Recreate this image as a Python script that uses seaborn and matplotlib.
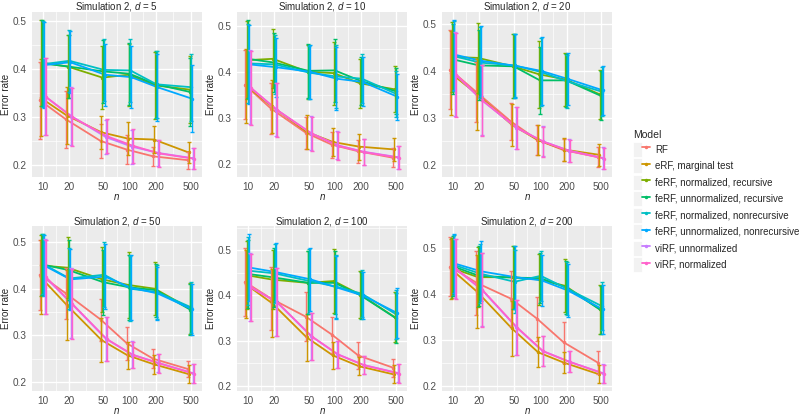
import numpy as np
import pandas as pd
import matplotlib
matplotlib.use("Agg")
import matplotlib.pyplot as plt
from matplotlib.lines import Line2D
from matplotlib.patches import Patch
from matplotlib.legend_handler import HandlerTuple
from matplotlib.ticker import FixedLocator, FixedFormatter, MultipleLocator, FormatStrFormatter, NullFormatter
import seaborn as sns

models = ["RF", "eRF, marginal test", "feRF, normalized, recursive",
          "feRF, unnormalized, recursive", "feRF, normalized, nonrecursive",
          "feRF, unnormalized, nonrecursive", "viRF, unnormalized", "viRF, normalized"]
palette = ["#F8766D", "#CD9600", "#7CAE00", "#00BE67", "#00BFC4", "#00A9FF", "#C77CFF", "#FF61CC"]
n_values = [10, 20, 50, 100, 200, 500]
dims = [5, 10, 20, 50, 100, 200]

# mean error rate per model, keyed by d
rf = {5: [0.335, 0.295, 0.250, 0.232, 0.218, 0.210],
      10: [0.372, 0.320, 0.268, 0.242, 0.228, 0.214],
      20: [0.403, 0.355, 0.292, 0.253, 0.231, 0.216],
      50: [0.430, 0.390, 0.334, 0.283, 0.250, 0.228],
      100: [0.430, 0.393, 0.353, 0.313, 0.267, 0.240],
      200: [0.460, 0.425, 0.390, 0.346, 0.295, 0.250]}
erf = {5: [0.340, 0.303, 0.268, 0.255, 0.253, 0.226],
       10: [0.370, 0.325, 0.270, 0.248, 0.238, 0.232],
       20: [0.395, 0.350, 0.285, 0.252, 0.232, 0.221],
       50: [0.425, 0.365, 0.290, 0.257, 0.238, 0.217],
       100: [0.425, 0.383, 0.307, 0.267, 0.243, 0.225],
       200: [0.455, 0.405, 0.325, 0.273, 0.250, 0.225]}
ferf_nr = {5: [0.413, 0.405, 0.382, 0.388, 0.366, 0.357],
           10: [0.425, 0.428, 0.400, 0.397, 0.375, 0.362],
           20: [0.430, 0.428, 0.410, 0.393, 0.382, 0.350],
           50: [0.450, 0.445, 0.420, 0.408, 0.400, 0.358],
           100: [0.445, 0.435, 0.428, 0.432, 0.402, 0.352],
           200: [0.457, 0.437, 0.437, 0.432, 0.418, 0.367]}
ferf_ur = {5: [0.412, 0.405, 0.395, 0.390, 0.368, 0.352],
           10: [0.428, 0.420, 0.402, 0.403, 0.380, 0.358],
           20: [0.425, 0.412, 0.410, 0.380, 0.380, 0.347],
           50: [0.452, 0.440, 0.414, 0.403, 0.397, 0.355],
           100: [0.448, 0.440, 0.428, 0.428, 0.400, 0.350],
           200: [0.461, 0.440, 0.436, 0.435, 0.415, 0.365]}
ferf_nn = {5: [0.410, 0.417, 0.398, 0.397, 0.368, 0.362],
           10: [0.418, 0.416, 0.398, 0.390, 0.385, 0.352],
           20: [0.432, 0.418, 0.412, 0.398, 0.378, 0.356],
           50: [0.453, 0.422, 0.430, 0.400, 0.393, 0.360],
           100: [0.455, 0.449, 0.432, 0.420, 0.404, 0.358],
           200: [0.464, 0.445, 0.427, 0.440, 0.412, 0.374]}
ferf_un = {5: [0.408, 0.414, 0.388, 0.383, 0.362, 0.338],
           10: [0.416, 0.410, 0.400, 0.385, 0.378, 0.346],
           20: [0.435, 0.422, 0.411, 0.400, 0.383, 0.359],
           50: [0.450, 0.420, 0.426, 0.402, 0.390, 0.356],
           100: [0.462, 0.452, 0.436, 0.418, 0.400, 0.361],
           200: [0.467, 0.450, 0.437, 0.430, 0.408, 0.367]}
virf_u = {5: [0.343, 0.302, 0.258, 0.238, 0.225, 0.214],
          10: [0.366, 0.318, 0.267, 0.241, 0.227, 0.215],
          20: [0.393, 0.338, 0.279, 0.250, 0.230, 0.214],
          50: [0.426, 0.369, 0.293, 0.259, 0.241, 0.219],
          100: [0.419, 0.386, 0.310, 0.270, 0.246, 0.228],
          200: [0.456, 0.410, 0.328, 0.276, 0.253, 0.227]}
virf_n = {5: [0.342, 0.300, 0.260, 0.240, 0.224, 0.213],
          10: [0.365, 0.317, 0.266, 0.240, 0.226, 0.214],
          20: [0.392, 0.337, 0.278, 0.249, 0.229, 0.213],
          50: [0.425, 0.368, 0.292, 0.258, 0.240, 0.218],
          100: [0.418, 0.385, 0.309, 0.269, 0.245, 0.227],
          200: [0.455, 0.409, 0.327, 0.275, 0.252, 0.226]}

# error bar half widths (RF, eRF/viRF, feRF)
err_rf = {5: [0.080, 0.060, 0.035, 0.030, 0.020, 0.018],
          10: [0.075, 0.055, 0.035, 0.028, 0.025, 0.020],
          20: [0.085, 0.065, 0.040, 0.032, 0.024, 0.022],
          50: [0.075, 0.055, 0.045, 0.035, 0.020, 0.018],
          100: [0.075, 0.070, 0.055, 0.040, 0.030, 0.020],
          200: [0.065, 0.070, 0.060, 0.048, 0.045, 0.025]}
err_lo = {5: [0.080, 0.060, 0.035, 0.035, 0.028, 0.022],
          10: [0.080, 0.058, 0.037, 0.030, 0.028, 0.025],
          20: [0.090, 0.075, 0.045, 0.032, 0.024, 0.023],
          50: [0.080, 0.075, 0.047, 0.028, 0.020, 0.020],
          100: [0.075, 0.075, 0.052, 0.030, 0.020, 0.020],
          200: [0.065, 0.080, 0.060, 0.033, 0.023, 0.020]}
err_fe = {5: [0.090, 0.065, 0.065, 0.065, 0.070, 0.070],
          10: [0.085, 0.064, 0.058, 0.068, 0.053, 0.050],
          20: [0.075, 0.075, 0.068, 0.072, 0.056, 0.052],
          50: [0.065, 0.065, 0.070, 0.070, 0.057, 0.055],
          100: [0.075, 0.065, 0.070, 0.070, 0.052, 0.055],
          200: [0.065, 0.065, 0.069, 0.055, 0.058, 0.053]}

means = [rf, erf, ferf_nr, ferf_ur, ferf_nn, ferf_un, virf_u, virf_n]
errs = [err_rf, err_lo, err_fe, err_fe, err_fe, err_fe, err_lo, err_lo]

# dodge in log10 units, like position_dodge on a log scale
dodge = 0.08
offsets = (np.arange(len(models)) - 3.5) * dodge / 8

rows = []
for d in dims:
    for i, model in enumerate(models):
        for j, n in enumerate(n_values):
            rows.append({"d": d, "Model": model, "n": n,
                         "x": n * 10 ** offsets[i],
                         "mean": means[i][d][j], "err": errs[i][d][j]})
df = pd.DataFrame(rows)

sns.set_style("darkgrid")
plt.rcParams["font.family"] = ["Liberation Sans", "DejaVu Sans"]
plt.rcParams["mathtext.fontset"] = "custom"
plt.rcParams["mathtext.it"] = "Liberation Sans:italic"
plt.rcParams["mathtext.rm"] = "Liberation Sans"

fig, axes = plt.subplots(2, 3, figsize=(8, 4.15), dpi=100)
fig.subplots_adjust(left=0.04, right=0.765, top=0.971, bottom=0.058, wspace=0.21, hspace=0.30)

minor_x = [np.sqrt(a * b) for a, b in zip(n_values[:-1], n_values[1:])]

for ax, d in zip(axes.flat, dims):
    sub = df[df["d"] == d]
    ax.set_facecolor("#EBEBEB")
    sns.lineplot(data=sub, x="x", y="mean", hue="Model", hue_order=models, palette=palette,
                 estimator=None, marker="o", markersize=2.5, markeredgewidth=0,
                 linewidth=1.3, legend=False, ax=ax)
    for model, color in zip(models, palette):
        m = sub[sub["Model"] == model]
        ax.errorbar(m["x"], m["mean"], yerr=m["err"], fmt="none", ecolor=color,
                    elinewidth=1.0, capsize=1.3, capthick=1.0)
    ax.set_xscale("log")
    ax.xaxis.set_major_locator(FixedLocator(n_values))
    ax.xaxis.set_major_formatter(FixedFormatter([str(v) for v in n_values]))
    ax.xaxis.set_minor_locator(FixedLocator(minor_x))
    ax.xaxis.set_minor_formatter(NullFormatter())
    ax.yaxis.set_major_locator(MultipleLocator(0.1))
    ax.yaxis.set_minor_locator(MultipleLocator(0.05))
    ax.yaxis.set_major_formatter(FormatStrFormatter("%.1f"))
    ax.grid(which="major", color="white", linewidth=1.0)
    ax.grid(which="minor", color="white", linewidth=0.5)
    for s in ax.spines.values():
        s.set_visible(False)
    ax.tick_params(which="major", length=2.5, width=0.6, color="#333333",
                   labelsize=7.2, labelcolor="#4D4D4D", pad=1.5)
    ax.tick_params(which="minor", length=0)
    ax.set_title(f"Simulation 2, $d$ = {d}", fontsize=7, pad=1.5)
    ax.set_xlabel("$n$", fontsize=7, labelpad=0)
    ax.set_ylabel("Error rate", fontsize=7, labelpad=1)

handles = [(Patch(facecolor="#F2F2F2", edgecolor="white", linewidth=0.6),
            Line2D([], [], color=c, marker="o", markersize=2.5, markeredgewidth=0, linewidth=1.3))
           for c in palette]
leg = fig.legend(handles, models, loc="upper left", bbox_to_anchor=(0.787, 0.695),
                 title="Model", frameon=False, fontsize=7, title_fontsize=7.5,
                 handlelength=1.7, handleheight=2.0, handletextpad=0.5, labelspacing=0.15,
                 alignment="left", borderaxespad=0,
                 handler_map={tuple: HandlerTuple(ndivide=None, pad=0)})

fig.savefig("out.png", dpi=100)
